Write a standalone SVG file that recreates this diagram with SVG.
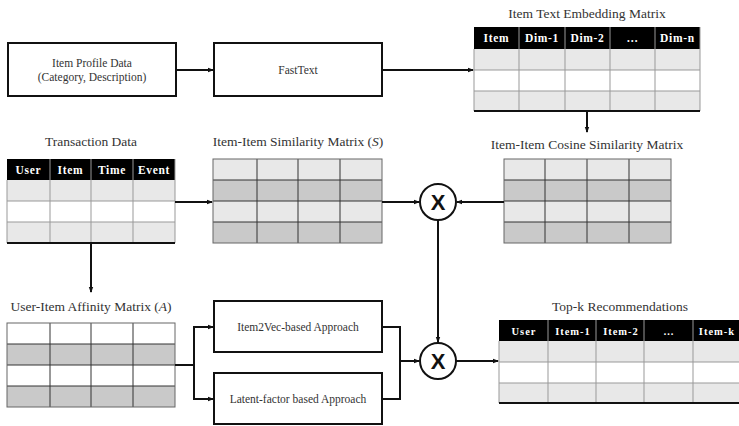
<svg xmlns="http://www.w3.org/2000/svg" width="739" height="426" viewBox="0 0 739 426">
<defs>
<marker id="ah" markerWidth="6" markerHeight="6" refX="5" refY="3" orient="auto" markerUnits="userSpaceOnUse">
<path d="M0,0.8 L6,3 L0,5.2 Z" fill="#111"/>
</marker>
</defs>
<style>
text{font-family:"Liberation Serif","Times New Roman",Times,serif}
.box{fill:#fff;stroke:#111;stroke-width:2}
.t{font-size:11.5px;fill:#333;text-anchor:middle}
.title{font-size:13.5px;fill:#333;text-anchor:middle}
.h{font-size:11.5px;font-weight:bold;fill:#fff;text-anchor:middle;letter-spacing:0.7px}
.hk{font-size:10.5px;font-weight:bold;fill:#fff;text-anchor:middle;letter-spacing:1px}
.hdr{fill:#000}
.l{fill:#e8e8e8}
.w{fill:#fff}
.d{fill:#c9c9c9}
.g{stroke:#999;stroke-width:1;fill:none}
.gd{stroke:#333;stroke-width:1;fill:none}
.c{fill:none;stroke:#111;stroke-width:2}
.op{fill:#fff;stroke:#111;stroke-width:2}
text.x{font-family:"Liberation Sans",Arial,sans-serif;font-size:22px;font-weight:bold;fill:#111;text-anchor:middle}
</style>

<g id="item-profile">
<rect class="box" x="8" y="43" width="168" height="53"/>
<text class="t" x="92" y="67">Item Profile Data</text>
<text class="t" x="92" y="81">(Category, Description)</text>
</g>

<g id="fasttext">
<rect class="box" x="214" y="43" width="168" height="53"/>
<text class="t" x="298" y="74">FastText</text>
</g>

<g id="embedding-matrix">
<text class="title" x="587" y="18">Item Text Embedding Matrix</text>
<rect class="hdr" x="474" y="27" width="226" height="22"/>
<rect class="l" x="474" y="49" width="226" height="21"/>
<rect class="w" x="474" y="70" width="226" height="21"/>
<rect class="l" x="474" y="91" width="226" height="20"/>
<path class="g" d="M474,49V111M519,27V111M565,27V111M610,27V111M655,27V111M700,27V111M474,70H700M474,91H700"/>
<path d="M474,111H700" stroke="#111" stroke-width="2"/>
<text class="h" x="496.5" y="42">Item</text>
<text class="h" x="542" y="42">Dim-1</text>
<text class="h" x="587.5" y="42">Dim-2</text>
<text class="h" x="632.5" y="42">…</text>
<text class="h" x="677.5" y="42">Dim-n</text>
</g>

<g id="transaction-data">
<text class="title" x="91" y="146">Transaction Data</text>
<rect class="hdr" x="7" y="159" width="168" height="21"/>
<rect class="l" x="7" y="180" width="168" height="21"/>
<rect class="w" x="7" y="201" width="168" height="21"/>
<rect class="l" x="7" y="222" width="168" height="21"/>
<path class="g" d="M7,180V243M50,159V243M91,159V243M133,159V243M175,159V243M7,201H175M7,222H175"/>
<path d="M7,243H175" stroke="#111" stroke-width="2"/>
<text class="h" x="28.5" y="173.5">User</text>
<text class="h" x="70.5" y="173.5">Item</text>
<text class="h" x="112" y="173.5">Time</text>
<text class="h" x="154" y="173.5">Event</text>
</g>

<g id="similarity-matrix">
<text class="title" x="298" y="146">Item-Item Similarity Matrix (<tspan font-style="italic">S</tspan>)</text>
<rect class="l" x="213" y="159" width="169" height="21"/>
<rect class="d" x="213" y="180" width="169" height="21"/>
<rect class="l" x="213" y="201" width="169" height="21"/>
<rect class="d" x="213" y="222" width="169" height="21"/>
<path class="gd" d="M257,159V243M298,159V243M340,159V243M213,180H382M213,201H382M213,222H382"/>
<rect x="213" y="159" width="169" height="84" fill="none" stroke="#666" stroke-width="1"/>
</g>

<g id="cosine-matrix">
<text class="title" x="587" y="149">Item-Item Cosine Similarity Matrix</text>
<rect class="l" x="504" y="159" width="167" height="21"/>
<rect class="d" x="504" y="180" width="167" height="21"/>
<rect class="l" x="504" y="201" width="167" height="21"/>
<rect class="d" x="504" y="222" width="167" height="21"/>
<path class="gd" d="M545,159V243M587,159V243M629,159V243M504,180H671M504,201H671M504,222H671"/>
<rect x="504" y="159" width="167" height="84" fill="none" stroke="#666" stroke-width="1"/>
</g>

<g id="affinity-matrix">
<text class="title" x="91" y="311">User-Item Affinity Matrix (<tspan font-style="italic">A</tspan>)</text>
<rect class="w" x="7" y="323" width="168" height="21"/>
<rect class="d" x="7" y="344" width="168" height="21"/>
<rect class="w" x="7" y="365" width="168" height="21"/>
<rect class="d" x="7" y="386" width="168" height="21"/>
<path class="gd" d="M50,323V407M91,323V407M133,323V407M7,344H175M7,365H175M7,386H175"/>
<rect x="7" y="323" width="168" height="84" fill="none" stroke="#666" stroke-width="1"/>
</g>

<g id="item2vec">
<rect class="box" x="214" y="301" width="168" height="51"/>
<text class="t" x="298" y="331">Item2Vec-based Approach</text>
</g>

<g id="latent-factor">
<rect class="box" x="214" y="373" width="168" height="51"/>
<text class="t" x="298" y="403">Latent-factor based Approach</text>
</g>

<g id="topk">
<text class="title" x="620" y="311">Top-k Recommendations</text>
<rect class="hdr" x="499" y="320" width="240" height="21"/>
<rect class="l" x="499" y="341" width="240" height="21"/>
<rect class="w" x="499" y="362" width="240" height="21"/>
<rect class="l" x="499" y="383" width="240" height="20"/>
<path class="g" d="M499,341V403M548,320V403M596,320V403M644,320V403M693,320V403M499,362H739M499,383H739"/>
<path d="M499,403H739" stroke="#111" stroke-width="2"/>
<text class="hk" x="524" y="334.5">User</text>
<text class="hk" x="573" y="334.5">Item-1</text>
<text class="hk" x="621" y="334.5">Item-2</text>
<text class="hk" x="669" y="334.5">…</text>
<text class="hk" x="717" y="334.5">Item-k</text>
</g>

<g id="connectors">
<path class="c" d="M176,70H213" marker-end="url(#ah)"/>
<path class="c" d="M382,70H473" marker-end="url(#ah)"/>
<path class="c" d="M587,111V132" marker-end="url(#ah)"/>
<path class="c" d="M175,202H212" marker-end="url(#ah)"/>
<path class="c" d="M382,202H419" marker-end="url(#ah)"/>
<path class="c" d="M504,202H457" marker-end="url(#ah)"/>
<path class="c" d="M91,243V292" marker-end="url(#ah)"/>
<path class="c" d="M438,220V342" marker-end="url(#ah)"/>
<path class="c" d="M175,365H194V327H213" marker-end="url(#ah)"/>
<path class="c" d="M194,365V399H213" marker-end="url(#ah)"/>
<path class="c" d="M382,327H400V399H382"/>
<path class="c" d="M400,361H419" marker-end="url(#ah)"/>
<path class="c" d="M456,361H498" marker-end="url(#ah)"/>
</g>

<g id="multiply-1">
<circle class="op" cx="438" cy="202" r="18"/>
<text class="x" x="438" y="210">X</text>
</g>

<g id="multiply-2">
<circle class="op" cx="438" cy="361" r="18"/>
<text class="x" x="438" y="369">X</text>
</g>
</svg>
